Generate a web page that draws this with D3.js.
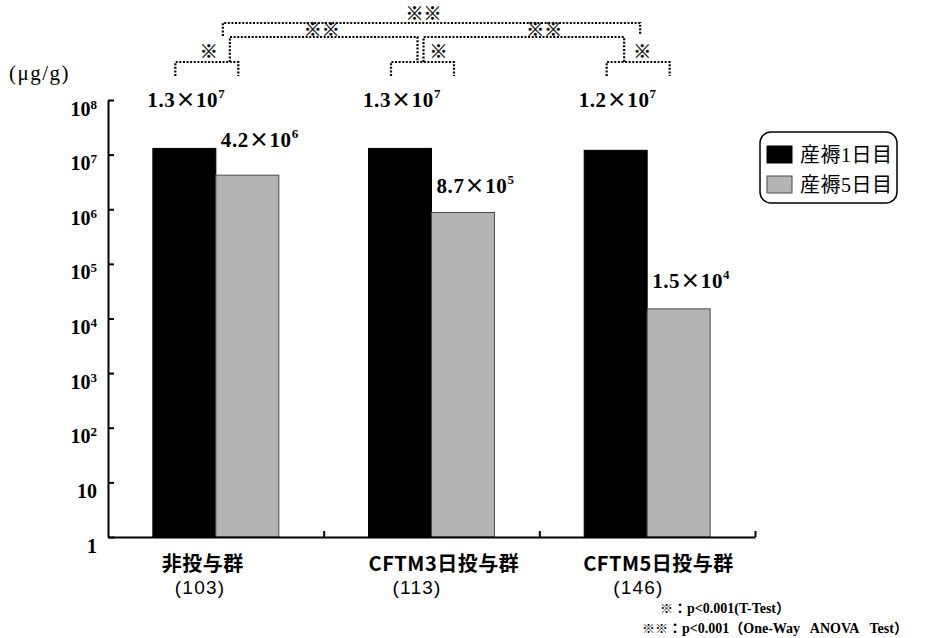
<!DOCTYPE html>
<html>
<head>
<meta charset="utf-8">
<script src="https://cdn.jsdelivr.net/npm/d3@7"></script>
<style>
  html, body { margin: 0; padding: 0; background: #fff; }
  svg { display: block; }
  .marks { opacity: 0.995; }
</style>
</head>
<body>
<svg id="chart" width="926" height="638"></svg>
<script>
// ---- data ----
const categories = ["非投与群", "CFTM3日投与群", "CFTM5日投与群"];
const sampleSizes = ["(103)", "(113)", "(146)"];
const seriesNames = ["産褥1日目", "産褥5日目"];
const day1Values = [1.3e7, 1.3e7, 1.2e7];
const day5Values = [4.2e6, 8.7e5, 1.5e4];
const yTickValues = [1, 10, 1e2, 1e3, 1e4, 1e5, 1e6, 1e7, 1e8];
const singleMark = "※";
const doubleMark = "※※";
const footnoteMarks = ["※", "※※"];
const footnoteTexts = ["：p<0.001(T-Test）", "：p<0.001（One-Way\u2002 ANOVA\u2002 Test）"];
const unitLabel = "(μg/g)";

// ---- layout ----
const svg = d3.select("#chart");
const plot = { left: 108, right: 755, top: 100, bottom: 537 };
const colors = ["#000000", "#b4b4b4"];
const strokes = ["#000000", "#4a4a4a"];
const serif = "'Liberation Serif', 'Times New Roman', serif";
const gothic = "'Noto Sans CJK JP', 'Noto Sans', sans-serif";
const sans = "'Liberation Sans', Arial, sans-serif";

const x0 = d3.scaleBand().domain(categories)
  .range([plot.left, plot.right]).paddingInner(0.416).paddingOuter(0.208);
const x1 = d3.scaleBand().domain(seriesNames).range([0, x0.bandwidth()]);
const y = d3.scaleLog().domain([1, 1e8]).range([plot.bottom, plot.top]);

const rows = categories.map((c, i) => ({ cat: c, values: [day1Values[i], day5Values[i]] }));

// ---- bars ----
const groups = svg.append("g").selectAll("g").data(rows).join("g")
  .attr("transform", d => `translate(${x0(d.cat)},0)`);
groups.selectAll("rect")
  .data(d => d.values.map((v, j) => ({ v, j })))
  .join("rect")
  .attr("x", d => x1(seriesNames[d.j]))
  .attr("y", d => y(d.v))
  .attr("width", x1.bandwidth())
  .attr("height", d => y(1) - y(d.v))
  .attr("fill", d => colors[d.j])
  .attr("stroke", d => strokes[d.j])
  .attr("stroke-width", 1);

// ---- axes ----
const yAxis = svg.append("g")
  .attr("transform", `translate(${plot.left},0)`)
  .call(d3.axisLeft(y).tickValues(yTickValues).tickSizeInner(-6).tickSizeOuter(0).tickPadding(11).tickFormat(""));
yAxis.select(".domain").attr("stroke-width", 2);
yAxis.selectAll(".tick line").attr("stroke-width", 2);
yAxis.selectAll(".tick text").each(function (d) {
  const t = d3.select(this)
    .attr("font-family", serif).attr("font-weight", "bold").attr("font-size", 20)
    .attr("fill", "#000").attr("dy", 15);
  const e = Math.round(Math.log10(d));
  if (e === 0) t.text("1");
  else if (e === 1) t.text("10");
  else {
    t.append("tspan").text("10");
    t.append("tspan").attr("font-size", 13).attr("dy", -7).text(e);
  }
});

const xb = d3.scaleLinear().domain([0, categories.length]).range([plot.left, plot.right]);
const xAxis = svg.append("g")
  .attr("transform", `translate(0,${plot.bottom})`)
  .call(d3.axisBottom(xb).tickValues(d3.range(1, categories.length + 1))
    .tickSizeInner(-6).tickSizeOuter(0).tickFormat(""));
xAxis.select(".domain").attr("stroke-width", 2);
xAxis.selectAll(".tick line").attr("stroke-width", 2);

// ---- category labels ----
const line1Shift = [9, 0, -1];
const line2Shift = [22, 24, 29];
categories.forEach((c, i) => {
  const bx = x0(c) + x1(seriesNames[0]);
  svg.append("text").attr("x", bx + line1Shift[i]).attr("y", 571)
    .attr("font-family", gothic).attr("font-weight", "bold").attr("font-size", 20)
    .attr("letter-spacing", 0.5).text(c);
  svg.append("text").attr("x", bx + line2Shift[i]).attr("y", 594)
    .attr("font-family", sans).attr("font-size", 19).attr("letter-spacing", 1.2).text(sampleSizes[i]);
});

// ---- value labels ----
function sciLabel(sel, v) {
  const e = Math.floor(Math.log10(v));
  const m = (v / Math.pow(10, e)).toFixed(1);
  sel.append("tspan").text(m);
  sel.append("tspan").attr("font-family", gothic).attr("font-size", 20).text("×");
  sel.append("tspan").text("10");
  sel.append("tspan").attr("font-size", 13).attr("dy", -9).text(e);
}
const topLabelY = y(1e8) + 7;
const day5LabelDy = [-28, -20, -21];
rows.forEach((r, i) => {
  const bx = x0(r.cat);
  const t1 = svg.append("text")
    .attr("x", bx + x1(seriesNames[0]) + x1.bandwidth() / 2 + 2).attr("y", topLabelY)
    .attr("text-anchor", "middle").attr("font-family", serif)
    .attr("font-weight", "bold").attr("font-size", 21).attr("letter-spacing", 0.6);
  sciLabel(t1, r.values[0]);
  const t2 = svg.append("text")
    .attr("x", bx + x1(seriesNames[1]) + 5).attr("y", y(r.values[1]) + day5LabelDy[i])
    .attr("font-family", serif).attr("font-weight", "bold").attr("font-size", 21).attr("letter-spacing", 0.6);
  sciLabel(t2, r.values[1]);
});

// ---- significance brackets ----
const cx = categories.map(c => x0(c) + x0.bandwidth() / 2);
const sig = svg.append("g").attr("class", "marks");
function bracket(xa, xb2, yTop, yLegA, yLegB) {
  const p = d3.path();
  p.moveTo(xa, yLegA); p.lineTo(xa, yTop); p.lineTo(xb2, yTop); p.lineTo(xb2, yLegB);
  sig.append("path").attr("d", p.toString())
    .attr("fill", "none").attr("stroke", "#000").attr("stroke-width", 2.2)
    .attr("stroke-dasharray", "2,1.6");
}
function mark(x, yc, s) {
  sig.append("text").attr("x", x).attr("y", yc + 7).attr("text-anchor", "middle")
    .attr("font-family", gothic).attr("font-weight", "bold").attr("font-size", 18)
    .attr("fill", "#000").attr("stroke", "#000").attr("stroke-width", 0.3).text(s);
}
// within-group (day 1 vs day 5)
const lowerMarkDx = [-7, 7, -5];
cx.forEach((c, i) => {
  const a = c - x1.bandwidth() / 2 - 9, b = c + x1.bandwidth() / 2 - 9;
  bracket(a, b, 62, 76, 76);
  mark(c + lowerMarkDx[i], 51, singleMark);
});
// between groups
bracket(cx[0] + 14, cx[1] - 14, 37, 62, 62);
mark((cx[0] + cx[1]) / 2 - 2, 29, doubleMark);
bracket(cx[1] - 8, cx[2] - 23, 37, 62, 62);
mark((cx[1] + cx[2]) / 2 + 5, 29, doubleMark);
bracket(cx[0] + 7, cx[2] - 7, 23, 36, 35);
mark((cx[0] + cx[2]) / 2 - 8, 13, doubleMark);

// ---- unit label ----
svg.append("text").attr("x", 9).attr("y", 80)
  .attr("font-family", serif).attr("font-size", 21).attr("letter-spacing", 1.5).text(unitLabel);

// ---- legend ----
const legend = svg.append("g").attr("transform", "translate(760,132)");
legend.append("rect").attr("width", 137).attr("height", 71).attr("rx", 11)
  .attr("fill", "#fff").attr("stroke", "#000").attr("stroke-width", 1.5);
seriesNames.forEach((s, j) => {
  legend.append("rect").attr("x", 7).attr("y", 14 + j * 30).attr("width", 25).attr("height", 17)
    .attr("fill", colors[j]).attr("stroke", strokes[j]).attr("stroke-width", 1);
  legend.append("text").attr("x", 40).attr("y", 30 + j * 30)
    .attr("font-family", serif + ", 'Noto Sans CJK JP'").attr("font-size", 20)
    .attr("letter-spacing", 0.5).text(s);
});

// ---- footnotes ----
const footX = [660, 642], footY = [613, 633];
const foot = svg.append("g").attr("class", "marks");
footnoteTexts.forEach((txt, k) => {
  const t = foot.append("text").attr("x", footX[k]).attr("y", footY[k])
    .attr("font-family", serif + ", 'Noto Sans CJK JP'").attr("font-weight", "bold").attr("font-size", 14);
  t.append("tspan").attr("font-family", gothic).attr("font-size", 13).text(footnoteMarks[k]);
  t.append("tspan").text(txt);
});
</script>
</body>
</html>
